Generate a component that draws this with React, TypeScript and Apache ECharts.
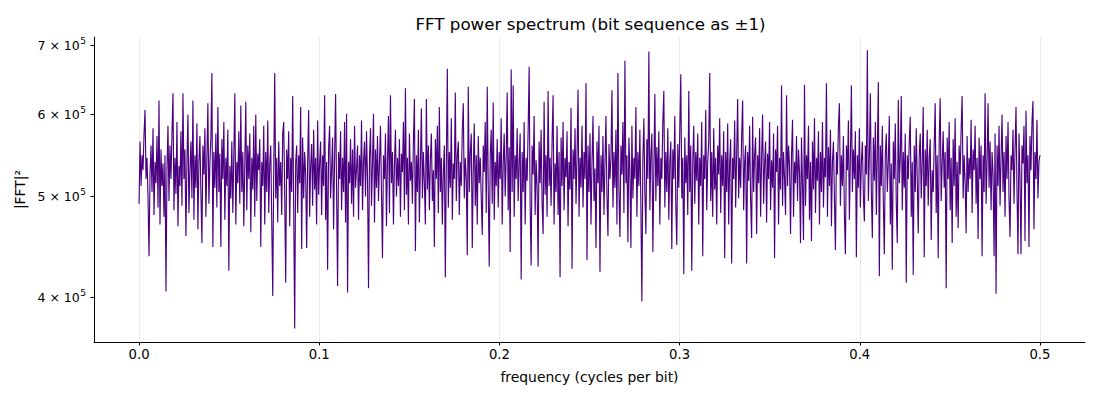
import React, { useEffect, useRef } from "react";
import * as echarts from "echarts";

// |FFT|^2 power per frequency bin, in units of 1000
const powerThousands: number[] = [
  492, 565, 512, 548, 530, 575, 606, 520, 545, 498, 438, 525, 560, 505, 582, 480, 540, 515, 572, 488,
  619, 470, 555, 512, 538, 478, 548, 405, 530, 585, 495, 560, 520, 575, 629, 485, 545, 503, 590, 468,
  535, 512, 578, 490, 629, 520, 555, 458, 540, 600, 482, 530, 565, 498, 619, 475, 548, 510, 588, 465,
  540, 572, 505, 451, 560, 525, 582, 478, 545, 615, 492, 538, 570, 658, 447, 552, 510, 575, 488, 610,
  505, 550, 447, 568, 520, 590, 475, 545, 512, 580, 424, 535, 498, 565, 482, 548, 629, 470, 540, 515,
  578, 492, 612, 505, 552, 468, 538, 617, 485, 560, 520, 575, 462, 545, 508, 585, 478, 600, 495, 550,
  530, 568, 447, 540, 512, 585, 470, 552, 505, 592, 482, 538, 560, 475, 401, 528, 658, 498, 545, 472,
  565, 512, 540, 480, 575, 590, 502, 413, 555, 520, 578, 468, 545, 505, 625, 490, 373, 540, 560, 482,
  548, 515, 610, 445, 570, 498, 552, 525, 446, 540, 606, 478, 535, 562, 490, 580, 508, 545, 470, 592,
  502, 538, 565, 480, 548, 512, 626, 475, 540, 425, 555, 585, 498, 530, 570, 465, 545, 628, 505, 410,
  552, 520, 578, 485, 545, 505, 590, 472, 601, 404, 540, 515, 568, 492, 555, 478, 585, 510, 532, 560,
  475, 548, 512, 592, 485, 540, 565, 500, 578, 520, 408, 545, 582, 490, 538, 601, 472, 555, 510, 572,
  495, 540, 585, 505, 436, 548, 520, 575, 468, 542, 598, 482, 626, 515, 552, 470, 538, 580, 500, 545,
  512, 568, 478, 550, 528, 590, 485, 636, 502, 545, 470, 575, 518, 540, 492, 565, 621, 443, 548, 505,
  580, 472, 538, 608, 498, 552, 515, 470, 621, 508, 560, 485, 542, 575, 495, 530, 447, 568, 520, 585,
  482, 610, 505, 545, 470, 528, 560, 418, 540, 664, 488, 552, 510, 595, 475, 538, 520, 630, 495, 548,
  565, 480, 540, 512, 578, 615, 498, 545, 520, 439, 638, 505, 552, 575, 446, 530, 588, 490, 548, 470,
  572, 515, 545, 498, 459, 560, 528, 590, 482, 638, 510, 428, 548, 580, 492, 616, 475, 540, 512, 568,
  488, 552, 520, 595, 470, 538, 575, 500, 545, 630, 485, 558, 442, 663, 505, 640, 478, 548, 520, 582,
  495, 540, 575, 416, 552, 505, 590, 470, 545, 518, 580, 667, 490, 429, 560, 525, 598, 480, 542, 510,
  428, 565, 515, 580, 492, 460, 617, 502, 548, 478, 632, 512, 545, 490, 568, 626, 470, 538, 505, 585,
  480, 552, 418, 570, 512, 590, 485, 545, 522, 578, 468, 540, 508, 609, 426, 555, 520, 582, 492, 548,
  634, 478, 545, 510, 585, 488, 552, 520, 643, 434, 560, 505, 575, 470, 540, 598, 495, 532, 446, 565,
  515, 585, 423, 548, 505, 572, 480, 540, 598, 500, 458, 562, 520, 545, 633, 488, 552, 510, 580, 470,
  658, 505, 457, 560, 525, 590, 482, 676, 515, 548, 452, 570, 530, 446, 585, 498, 545, 520, 610, 478,
  552, 512, 580, 490, 396, 545, 595, 505, 460, 568, 520, 690, 485, 548, 575, 442, 530, 628, 495, 558,
  512, 578, 470, 545, 520, 590, 632, 488, 552, 505, 582, 475, 540, 565, 445, 555, 520, 598, 490, 449,
  562, 510, 580, 656, 498, 545, 421, 570, 515, 548, 480, 632, 505, 560, 424, 540, 585, 492, 552, 518,
  575, 470, 545, 512, 590, 438, 548, 520, 606, 485, 540, 565, 658, 495, 552, 478, 582, 508, 545, 470,
  560, 525, 595, 482, 548, 512, 578, 436, 552, 505, 588, 470, 540, 568, 431, 545, 520, 592, 488, 550,
  621, 498, 545, 510, 572, 619, 485, 540, 560, 431, 552, 518, 585, 495, 456, 597, 505, 548, 570, 460,
  548, 515, 582, 478, 545, 600, 492, 538, 565, 472, 550, 520, 590, 485, 542, 510, 575, 436, 555, 528,
  585, 470, 545, 508, 640, 490, 552, 520, 480, 626, 512, 560, 535, 460, 548, 593, 478, 540, 515, 572,
  495, 555, 528, 451, 570, 512, 454, 641, 490, 548, 520, 585, 475, 540, 453, 565, 508, 595, 482, 545,
  518, 578, 470, 552, 505, 590, 488, 545, 522, 643, 478, 558, 512, 580, 468, 540, 565, 498, 444, 552,
  525, 585, 615, 490, 548, 512, 572, 480, 440, 560, 530, 592, 475, 545, 640, 505, 555, 520, 578, 437,
  548, 510, 582, 488, 540, 565, 502, 473, 560, 525, 692, 495, 545, 629, 505, 456, 570, 518, 590, 480,
  552, 645, 419, 560, 512, 585, 495, 440, 548, 575, 505, 540, 598, 470, 538, 425, 565, 520, 588, 492,
  451, 620, 515, 545, 625, 485, 552, 510, 575, 413, 548, 520, 565, 597, 478, 540, 420, 560, 505, 582,
  520, 461, 548, 575, 498, 540, 610, 437, 555, 512, 580, 490, 545, 568, 454, 530, 505, 560, 615, 482,
  548, 436, 565, 622, 495, 540, 578, 510, 552, 408, 570, 520, 590, 485, 545, 451, 568, 512, 595, 478,
  540, 466, 560, 525, 582, 625, 498, 548, 515, 461, 572, 505, 545, 520, 593, 482, 555, 530, 585, 492,
  545, 455, 570, 520, 560, 438, 548, 505, 629, 492, 540, 615, 510, 565, 485, 552, 525, 438, 575, 403,
  560, 512, 585, 490, 545, 600, 505, 552, 478, 572, 520, 590, 498, 457, 548, 530, 580, 492, 555, 610,
  505, 440, 575, 520, 440, 560, 538, 585, 453, 605, 515, 548, 447, 572, 530, 590, 618, 465, 552, 520,
  593, 498, 540, 548,
];

// frequency range covered by the bins (cycles per bit)
const FREQ_START = 0;
const FREQ_END = 0.5;

const xTicks: number[] = [0, 0.1, 0.2, 0.3, 0.4, 0.5];
const yTicks: number[] = [400000, 500000, 600000, 700000];

const TITLE = "FFT power spectrum (bit sequence as ±1)";
const X_NAME = "frequency (cycles per bit)";
const Y_NAME = "|FFT|²";

const FONT = "'DejaVu Sans', sans-serif";

export default function App() {
  const ref = useRef<HTMLDivElement>(null);

  useEffect(() => {
    if (!ref.current) return;
    const chart = echarts.init(ref.current, undefined, { renderer: "svg" });
    const n = powerThousands.length;
    const step = (FREQ_END - FREQ_START) / (n - 1);
    const data = powerThousands.map((v, i) => [FREQ_START + i * step, v * 1000]);

    chart.setOption({
      animation: false,
      backgroundColor: "#ffffff",
      textStyle: { fontFamily: FONT },
      title: {
        text: TITLE,
        left: 585.5,
        textAlign: "center",
        top: 10,
        textStyle: { fontFamily: FONT, fontSize: 16.7, fontWeight: "normal", color: "#000" },
      },
      grid: { left: 94, right: 15, top: 37, bottom: 58, containLabel: false },
      xAxis: {
        type: "value",
        min: -0.025,
        max: 0.525,
        name: X_NAME,
        nameLocation: "middle",
        nameGap: 28,
        nameTextStyle: { fontFamily: FONT, fontSize: 13.9, color: "#000" },
        axisLine: { show: true, onZero: false, lineStyle: { color: "#000", width: 1 } },
        axisTick: { show: true, inside: false, length: 3.5, customValues: xTicks, lineStyle: { color: "#000", width: 1 } },
        axisLabel: {
          customValues: xTicks,
          margin: 6,
          fontFamily: FONT,
          fontSize: 13.2,
          color: "#000",
          formatter: (v: number) => v.toFixed(1),
        },
        splitLine: { show: true, lineStyle: { color: "#e6e6e6", width: 0.8 } },
      },
      yAxis: {
        type: "log",
        logBase: 10,
        min: 362000,
        max: 712600,
        name: Y_NAME,
        nameLocation: "middle",
        nameGap: 65,
        nameRotate: 90,
        nameTextStyle: { fontFamily: FONT, fontSize: 13.9, color: "#000" },
        axisLine: { show: true, onZero: false, lineStyle: { color: "#000", width: 1 } },
        axisTick: { show: true, inside: false, length: 3.5, customValues: yTicks, lineStyle: { color: "#000", width: 1 } },
        axisLabel: {
          customValues: yTicks,
          margin: 8,
          color: "#000",
          formatter: (v: number) => `{b|${Math.round(v / 100000)} × 10}{s|5}`,
          rich: {
            b: { fontFamily: FONT, fontSize: 12.5, color: "#000" },
            s: { fontFamily: FONT, fontSize: 9, color: "#000", padding: [0, 0, 9, 0.5] },
          },
        },
        splitLine: { show: false },
        minorTick: { show: false },
      },
      series: [
        {
          type: "line",
          data,
          symbol: "none",
          showSymbol: false,
          lineStyle: { color: "#4B0082", width: 1.15 },
          itemStyle: { color: "#4B0082" },
          emphasis: { disabled: true },
        },
      ],
    });

    return () => chart.dispose();
  }, []);

  return (
    <div
      ref={ref}
      style={{ position: "fixed", left: 0, top: 0, width: 1100, height: 400, background: "#fff" }}
    />
  );
}
